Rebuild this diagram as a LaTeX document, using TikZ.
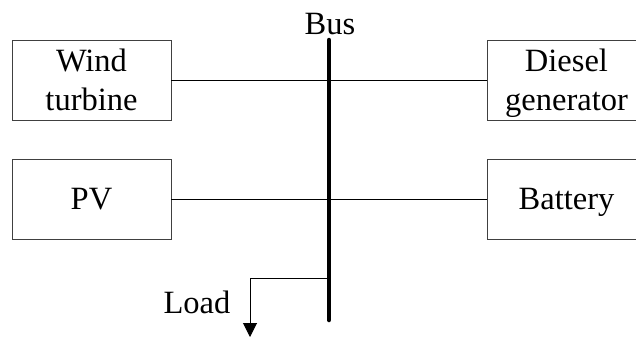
\documentclass[tikz,border=0pt]{standalone}
\usepackage{fontspec}
\setmainfont{Liberation Serif}
\usetikzlibrary{arrows.meta}
% fixed strut so one- and two-line labels sit at the same baselines
\newcommand\unitstrut{\rule[-8bp]{0pt}{36bp}}
\begin{document}
\begin{tikzpicture}[x=1bp,y=-1bp,
  unit/.style={draw=black!75,line width=0.9bp,minimum width=159bp,minimum height=80bp,
    inner sep=0pt,align=center,font=\fontsize{32.5bp}{39bp}\selectfont},
  lbl/.style={font=\fontsize{32.5bp}{39bp}\selectfont,inner sep=0pt,anchor=base},
  wire/.style={line width=1bp,black},
  busbar/.style={line width=4.5bp,line cap=round,black}]
  \useasboundingbox (0,0) rectangle (636,337);
  \clip (0,0) rectangle (636,337);
  % sources and storage
  \node[unit] (wind) at (91.5,80.5) {\unitstrut Wind\\\unitstrut turbine};
  \node[unit] (pv) at (91.5,199.5) {\unitstrut PV};
  \node[unit] (diesel) at (566.5,80.5) {\unitstrut Diesel\\\unitstrut generator};
  \node[unit] (battery) at (566.5,199.5) {\unitstrut Battery};
  % bus bar
  \coordinate (bustop) at (329,40);
  \coordinate (busbot) at (329,320);
  \node[lbl] (buslabel) at (330,34) {Bus};
  \draw[wire] (wind.east) -- (diesel.west);
  \draw[wire] (pv.east) -- (battery.west);
  \draw[busbar] (bustop) -- (busbot);
  % load feeder
  \coordinate (loadtap) at (329,278);
  \coordinate (loadend) at (250,337);
  \draw[wire,-{Triangle[length=14bp,width=14bp]}] (loadtap) -| (loadend);
  \node[lbl] (loadlabel) at (197,313) {Load};
\end{tikzpicture}
\end{document}
